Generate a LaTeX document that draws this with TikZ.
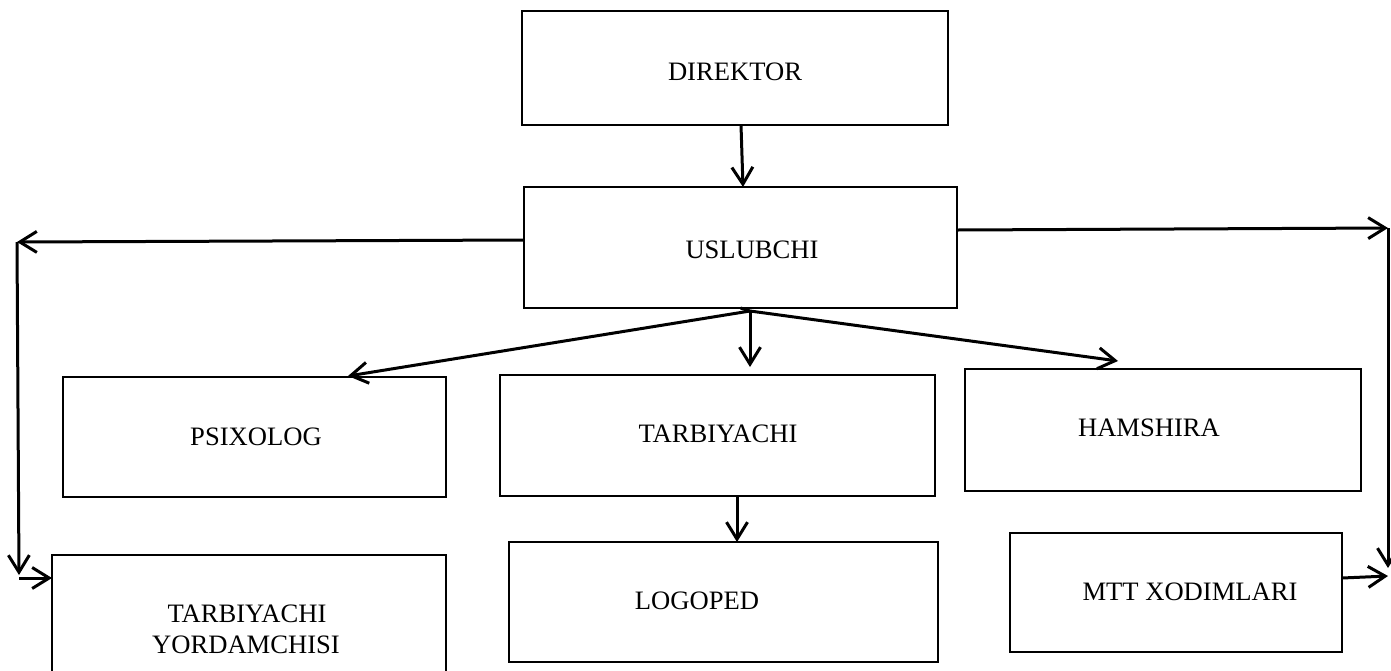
\documentclass[tikz,border=0pt]{standalone}
\usepackage{fontspec}
\setmainfont{Liberation Serif}
\usetikzlibrary{arrows.meta,calc,fit}

\begin{document}
\begin{tikzpicture}[x=0.5pt,y=-0.5pt,
  box/.style={draw=black,line width=1pt,inner sep=0pt,outer sep=0pt,rectangle},
  lbl/.style={font=\fontsize{13.3pt}{16pt}\selectfont,inner sep=0pt,anchor=base,align=center},
  arr/.style={draw=black,line width=1.5pt,-{Straight Barb[length=8.5pt,width=10.5pt,line width=1.5pt]}},
  ln/.style={draw=black,line width=1.5pt}]
\clip (0,0) rectangle (1391,670);

% boxes
\node[box,fit={(522,11) (948,125)}] (dir) {};
\node[box,fit={(524,187) (957,308)}] (usl) {};
\node[box,fit={(63,377) (446,497)}] (psi) {};
\node[box,fit={(500,375) (935,496)}] (tar) {};
\node[box,fit={(965,369) (1361,491)}] (ham) {};
\node[box,fit={(52,555) (446,700)}] (yor) {};
\node[box,fit={(509,542) (938,662)}] (log) {};
\node[box,fit={(1010,533) (1342,652)}] (mtt) {};

% labels
\node[lbl] (tdir) at (735,80) {DIREKTOR};
\node[lbl] (tusl) at (752,258) {USLUBCHI};
\node[lbl] (tpsi) at (256,445) {PSIXOLOG};
\node[lbl] (ttar) at (718,442) {TARBIYACHI};
\node[lbl] (tham) at (1149,436) {HAMSHIRA};
\node[lbl] (tyor1) at (247,622) {TARBIYACHI};
\node[lbl] (tyor2) at (246,653) {YORDAMCHISI};
\node[lbl] (tlog) at (697,609) {LOGOPED};
\node[lbl] (tmtt) at (1190,600) {MTT XODIMLARI};

% routing points
\coordinate (lc) at (17,242);
\coordinate (ld) at (19,575);
\coordinate (rc) at (1388,228);
\coordinate (rd) at (1388,568);
\coordinate (fan) at ($(usl.south)+(9.5,3)$);

% connectors
\draw[arr] ($(dir.south)+(6,0)$) -- ($(usl.north)+(2.5,0)$);
\draw[arr] ($(usl.west)+(0,-7.5)$) -- (lc);
\draw[arr] (lc) -- (ld);
\draw[arr] ($(ld)+(0,3)$) -- ($(yor.north west)+(0,23)$);
\draw[arr] ($(usl.east)+(0,-17.5)$) -- (rc);
\draw[arr] (rc) -- (rd);
\draw[arr] ($(mtt.east)+(0,-14.5)$) -- ($(rd)+(0,8)$);
\draw[ln] (usl.south) -- (fan);
\draw[arr] (fan) -- ($(psi.north)+(93.5,-1)$);
\draw[arr] (fan) -- ($(tar.north)+(32.5,-8)$);
\draw[arr] (fan) -- ($(ham.north)+(-45,-8)$);
\draw[arr] ($(tar.south)+(19.5,0)$) -- ($(log.north)+(13.5,0)$);
\end{tikzpicture}
\end{document}
